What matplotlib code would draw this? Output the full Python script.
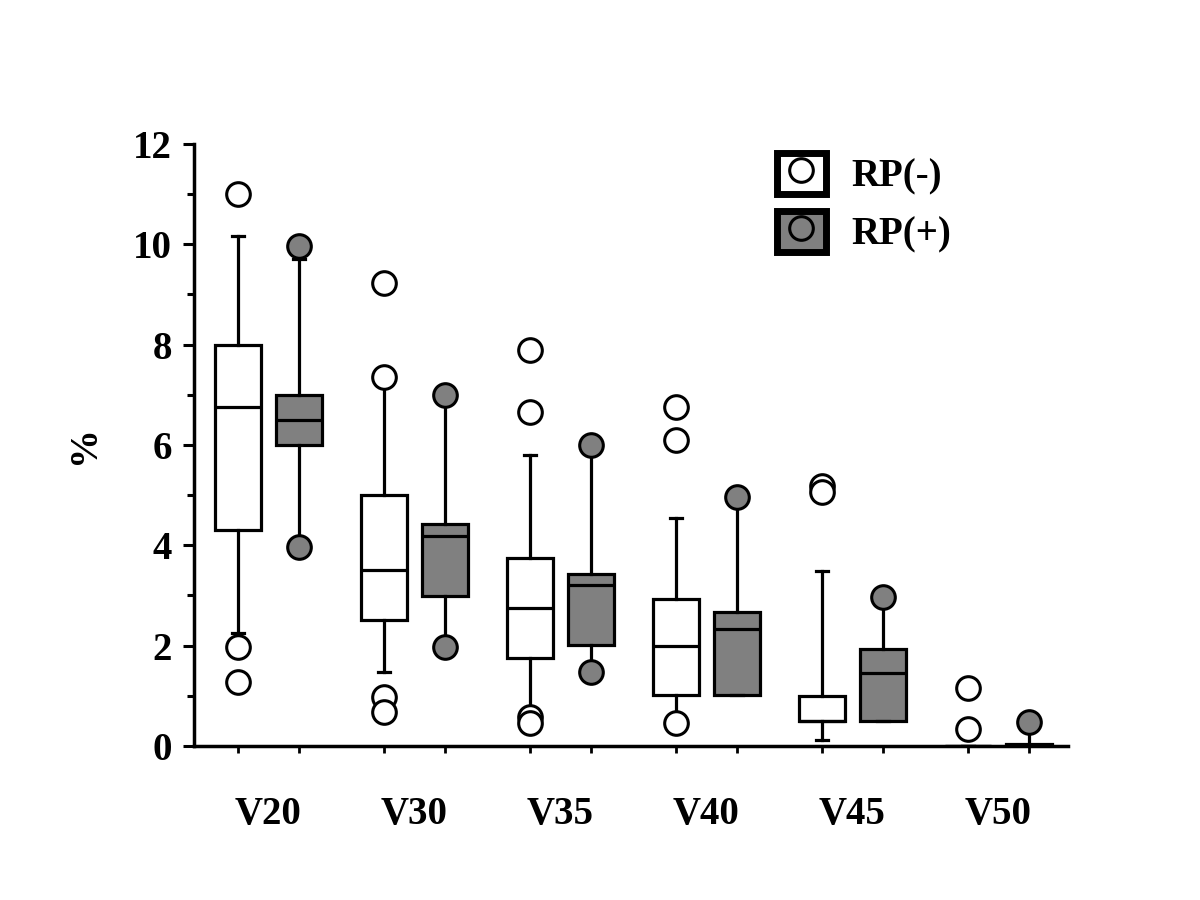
import matplotlib.pyplot as plt
from matplotlib.lines import Line2D
from matplotlib.patches import Patch
from matplotlib.legend_handler import HandlerTuple

# values (%)
groups = ['V20', 'V30', 'V35', 'V40', 'V45', 'V50']

# RP(-)
neg_q1 = [4.31, 2.51, 1.75, 1.02, 0.50, 0.0]
neg_med = [6.76, 3.50, 2.76, 1.99, 0.50, 0.0]
neg_q3 = [8.0, 5.0, 3.74, 2.92, 1.0, 0.0]
neg_lo = [2.25, 1.48, 0.58, 0.45, 0.12, 0.0]
neg_hi = [10.17, 7.36, 5.80, 4.54, 3.49, 0.0]
neg_out = [[11.0, 1.97, 1.28], [9.22, 7.36, 0.98, 0.68], [7.9, 6.66, 0.58, 0.45],
           [6.76, 6.1, 0.45], [5.18, 5.07], [1.15, 0.34]]

# RP(+)
pos_q1 = [6.0, 2.98, 2.01, 1.02, 0.50, 0.0]
pos_med = [6.5, 4.19, 3.21, 2.33, 1.45, 0.0]
pos_q3 = [7.0, 4.42, 3.43, 2.68, 1.93, 0.05]
pos_lo = [4.0, 2.15, 1.58, 1.02, 0.50, 0.0]
pos_hi = [9.7, 7.0, 6.0, 4.97, 2.86, 0.44]
pos_out = [[9.97, 3.97], [7.0, 1.98], [6.0, 1.48], [4.97], [2.97], [0.47]]

gray = '#808080'
plt.rcParams['font.family'] = 'Liberation Serif'
plt.rcParams['font.weight'] = 'bold'
fs = 28


def make_stats(q1, med, q3, lo, hi, out):
    stats = []
    for i in range(len(q1)):
        stats.append(dict(q1=q1[i], med=med[i], q3=q3[i], whislo=lo[i],
                          whishi=hi[i], fliers=out[i]))
    return stats


fig = plt.figure(figsize=(12, 9), dpi=100)
ax = fig.add_axes([0.1617, 0.1711, 0.7283, 0.669])

off = 0.21
w = 0.315
lw = 2.3
centers = list(range(len(groups)))
pos_neg = [c - off for c in centers]
pos_pos = [c + off for c in centers]

for stats, pos, fc in [(make_stats(neg_q1, neg_med, neg_q3, neg_lo, neg_hi, neg_out), pos_neg, 'white'),
                       (make_stats(pos_q1, pos_med, pos_q3, pos_lo, pos_hi, pos_out), pos_pos, gray)]:
    ax.bxp(stats, positions=pos, widths=w, capwidths=0.08, patch_artist=True,
           manage_ticks=False,
           boxprops=dict(facecolor=fc, edgecolor='black', linewidth=lw),
           medianprops=dict(color='black', linewidth=lw),
           whiskerprops=dict(color='black', linewidth=lw),
           capprops=dict(color='black', linewidth=lw),
           flierprops=dict(marker='o', markersize=17, markerfacecolor=fc,
                           markeredgecolor='black', markeredgewidth=2.2))

ax.set_xlim(-0.51, 5.476)
ax.set_ylim(0, 12)

for s in ['top', 'right']:
    ax.spines[s].set_visible(False)
for s in ['left', 'bottom']:
    ax.spines[s].set_linewidth(2.5)

ax.set_yticks(range(0, 13, 2))
ax.set_yticks(range(1, 13, 2), minor=True)
ax.tick_params(axis='y', which='major', length=8, width=2.2, labelsize=fs, pad=8)
ax.tick_params(axis='y', which='minor', length=5, width=2.2)

ax.set_xticks(centers)
ax.set_xticklabels(groups)
ax.set_xticks(pos_neg + pos_pos, minor=True)
ax.tick_params(axis='x', which='major', length=0, labelsize=fs, pad=36)
ax.tick_params(axis='x', which='minor', length=5, width=2.0)

ax.set_ylabel('%', fontsize=fs, fontweight='bold')
ax.yaxis.set_label_coords(-0.104, 0.5)

h_neg = (Patch(facecolor='white', edgecolor='black', linewidth=5),
         Line2D([], [], marker='o', ls='none', markersize=17, markerfacecolor='none',
                markeredgecolor='black', markeredgewidth=2.2))
h_pos = (Patch(facecolor=gray, edgecolor='black', linewidth=5),
         Line2D([], [], marker='o', ls='none', markersize=17, markerfacecolor='none',
                markeredgecolor='black', markeredgewidth=2.2))
ax.legend([h_neg, h_pos], ['RP(-)', 'RP(+)'], handler_map={tuple: HandlerTuple(ndivide=1)},
          loc='upper left', bbox_to_anchor=(0.645, 1.017), frameon=False, fontsize=fs,
          borderpad=0, handlelength=1.25, handleheight=1.25, handletextpad=0.67,
          labelspacing=0.39)

fig.savefig('out.png', dpi=100)
